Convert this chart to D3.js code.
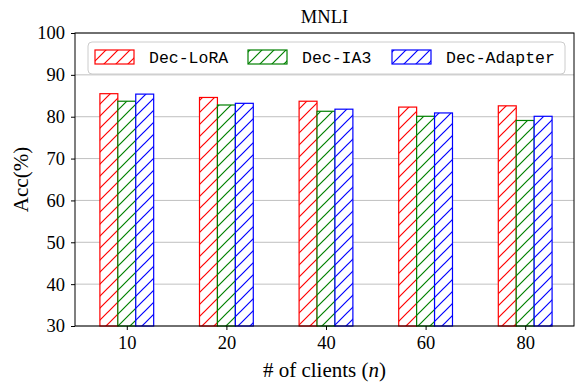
<!DOCTYPE html>
<html>
<head>
<meta charset="utf-8">
<script src="https://cdn.jsdelivr.net/npm/d3@7"></script>
<style>
  body { margin: 0; background: #fff; }
  text { font-family: "Liberation Serif", "DejaVu Serif", serif; }
</style>
</head>
<body>
<div id="chart"></div>
<script>
(function() {
  'use strict';

  const clients = ['10', '20', '40', '60', '80'];
  const seriesNames = ['Dec-LoRA', 'Dec-IA3', 'Dec-Adapter'];
  const seriesColors = ['#ff0000', '#008000', '#0000ff'];
  const loraAcc    = [85.5, 84.6, 83.7, 82.3, 82.6];
  const ia3Acc     = [83.7, 82.8, 81.3, 80.1, 79.1];
  const adapterAcc = [85.4, 83.2, 81.8, 80.9, 80.1];
  const yTicks = [30, 40, 50, 60, 70, 80, 90, 100];

  const series = [loraAcc, ia3Acc, adapterAcc];

  let width = 584, height = 390,
      margin = {left: 75, right: 10, top: 33, bottom: 64},
      barW = 0.18,

      svg = d3.select('#chart')
        .append('svg')
        .attr('width', width)
        .attr('height', height),

      x = d3.scaleLinear()
        .domain([-0.52, 4.49])
        .range([margin.left, width - margin.right]),

      y = d3.scaleLinear()
        .domain([30, 100])
        .range([height - margin.bottom, margin.top]);

  // hatch patterns, fixed to the page like matplotlib
  let defs = svg.append('defs');
  seriesColors.forEach((c, i) => {
    let p = defs.append('pattern')
      .attr('id', 'hatch' + i)
      .attr('patternUnits', 'userSpaceOnUse')
      .attr('width', 12)
      .attr('height', 12);
    p.append('rect').attr('width', 12).attr('height', 12).style('fill', '#fff');
    p.append('path')
      .attr('d', 'M-3,15 L15,-3 M-3,3 L3,-3 M9,15 L15,9')
      .style('fill', 'none')
      .style('stroke', c)
      .style('stroke-width', 1.2);
  });

  // grid
  svg.append('g')
    .selectAll('line')
    .data(yTicks)
    .enter()
    .append('line')
      .attr('x1', x.range()[0])
      .attr('x2', x.range()[1])
      .attr('y1', d => y(d))
      .attr('y2', d => y(d))
      .attr('stroke', '#b0b0b0')
      .attr('stroke-width', 0.8);

  // bars
  series.forEach((vals, s) => {
    svg.append('g')
      .selectAll('rect')
      .data(vals)
      .enter()
      .append('rect')
        .attr('x', (d, i) => x(i + (s - 1) * barW - barW / 2))
        .attr('width', x(barW) - x(0))
        .attr('y', d => y(d))
        .attr('height', d => y(30) - y(d))
        .attr('fill', 'url(#hatch' + s + ')')
        .attr('stroke', seriesColors[s])
        .attr('stroke-width', 1.2);
  });

  // axes
  let xAxis = svg.append('g')
    .attr('transform', `translate(0,${y(30)})`)
    .call(d3.axisBottom(x)
      .tickValues(d3.range(clients.length))
      .tickFormat(i => clients[i])
      .tickSize(4)
      .tickPadding(6));

  let yAxis = svg.append('g')
    .attr('transform', `translate(${x.range()[0]},0)`)
    .call(d3.axisLeft(y)
      .tickValues(yTicks)
      .tickSize(4)
      .tickPadding(6));

  [xAxis, yAxis].forEach(a => {
    a.select('.domain').remove();
    a.selectAll('text')
      .attr('fill', '#000')
      .style('font-family', '"Liberation Serif", serif')
      .style('font-size', '18.5px');
    a.selectAll('line').attr('stroke', '#000');
  });

  // frame
  svg.append('rect')
    .attr('x', x.range()[0])
    .attr('y', y.range()[1])
    .attr('width', x.range()[1] - x.range()[0])
    .attr('height', y.range()[0] - y.range()[1])
    .attr('fill', 'none')
    .attr('stroke', '#000')
    .attr('stroke-width', 1);

  // title + labels
  svg.append('text')
    .attr('x', (x.range()[0] + x.range()[1]) / 2)
    .attr('y', 23)
    .attr('text-anchor', 'middle')
    .style('font-size', '18.5px')
    .text('MNLI');

  let xl = svg.append('text')
    .attr('x', (x.range()[0] + x.range()[1]) / 2)
    .attr('y', 377)
    .attr('text-anchor', 'middle')
    .style('font-size', '21px');
  xl.append('tspan').text('# of clients (');
  xl.append('tspan').style('font-style', 'italic').text('n');
  xl.append('tspan').text(')');

  svg.append('text')
    .attr('transform', `translate(28,${(y.range()[0] + y.range()[1]) / 2}) rotate(-90)`)
    .attr('text-anchor', 'middle')
    .style('font-size', '21px')
    .text('Acc(%)');

  // legend
  let lg = svg.append('g');
  lg.append('rect')
    .attr('x', 88).attr('y', 42)
    .attr('width', 477).attr('height', 32)
    .attr('rx', 4)
    .attr('fill', '#fff').attr('fill-opacity', 0.8)
    .attr('stroke', '#cccccc');

  let legendX = [95, 248, 392];
  seriesNames.forEach((name, i) => {
    lg.append('rect')
      .attr('x', legendX[i]).attr('y', 50)
      .attr('width', 39).attr('height', 14)
      .attr('fill', 'url(#hatch' + i + ')')
      .attr('stroke', seriesColors[i])
      .attr('stroke-width', 1.2);
    lg.append('text')
      .attr('x', legendX[i] + 54)
      .attr('y', 63)
      .style('font-family', '"Liberation Mono", monospace')
      .style('font-size', '16.5px')
      .text(name);
  });

})();
</script>
</body>
</html>
